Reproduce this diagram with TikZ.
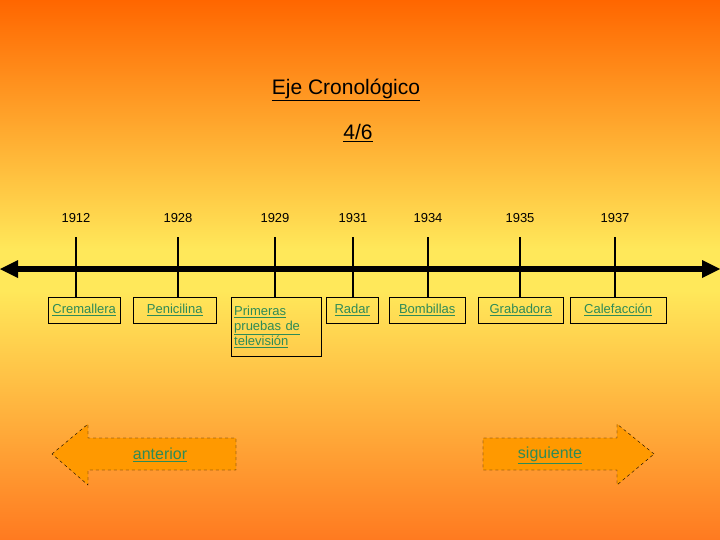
\documentclass[tikz,border=0pt]{standalone}
\usepackage{fontspec}
\setmainfont{Liberation Sans}
\newcommand\myul[1]{\underline{#1}}
\definecolor{lnk}{HTML}{2E8B57}
\definecolor{ortop}{HTML}{FF6600}
\definecolor{yel}{HTML}{FFE85A}
\definecolor{orbot}{HTML}{FF7A20}
\definecolor{arr}{HTML}{FF9900}
\begin{document}
\begin{tikzpicture}[x=1pt,y=-1pt,
 yr/.style={font=\fontsize{13}{15}\selectfont},
 ev/.style={draw,thin,anchor=north west,align=left,inner sep=3pt,text=lnk,font=\fontsize{13}{15}\selectfont},
 tick/.style={line width=2.5pt},
 nav/.style={draw,dashed,fill=arr,thin}]
\path[top color=ortop,bottom color=yel] (0,0) rectangle (720,250);
\path[fill=yel] (0,249.5) rectangle (720,290.5);
\path[top color=yel,bottom color=orbot] (0,290) rectangle (720,540);
\useasboundingbox (0,0) rectangle (720,540);
\node (title) at (346,90) {\fontsize{21}{24}\selectfont\myul{Eje\ Cronológico}};
\node (page) at (358,133) {\fontsize{21}{24}\selectfont\myul{4/6}};
\coordinate (L) at (14,269); \coordinate (R) at (706,269);
\draw[line width=5.5pt] (L) -- (R);
\fill (0,269) -- (18,260) -- (18,278) -- cycle;
\fill (720,269) -- (702,260) -- (702,278) -- cycle;
\foreach \x/\y/\n in {76/1912/a,178/1928/b,275/1929/c,353/1931/d,428/1934/e,520/1935/f,615/1937/g}{
 \node[yr] (y\n) at (\x,218) {\y};
 \coordinate (t\n) at (\x,237); \coordinate (b\n) at (\x,297);
 \draw[tick] (t\n) -- (b\n);
}
\node[ev,minimum width=72pt,minimum height=26pt] (ea) at (48,297) {\myul{Cremallera}};
\node[ev,minimum width=83pt,minimum height=26pt] (eb) at (133,297) {\myul{Penicilina}};
\node[ev,minimum width=90pt,minimum height=59pt,text width=84pt] (ec) at (231,297) {\myul{Primeras}\\\myul{pruebas de}\\\myul{televisión}};
\node[ev,minimum width=52pt,minimum height=26pt] (ed) at (326,297) {\myul{Radar}};
\node[ev,minimum width=76pt,minimum height=26pt] (ee) at (389,297) {\myul{Bombillas}};
\node[ev,minimum width=85pt,minimum height=26pt] (ef) at (478,297) {\myul{Grabadora}};
\node[ev,minimum width=96pt,minimum height=26pt] (eg) at (570,297) {\myul{Calefacción}};
\draw[nav] (52,454) -- (88,424) -- (88,438) -- (236,438) -- (236,470) -- (88,470) -- (88,485) -- cycle;
\draw[nav] (654,454) -- (617,424) -- (617,438) -- (483,438) -- (483,470) -- (617,470) -- (617,485) -- cycle;
\node[text=lnk,font=\fontsize{16}{18}\selectfont] (ant) at (160,455) {\myul{anterior}};
\node[text=lnk,font=\fontsize{16}{18}\selectfont] (sig) at (550,455) {\myul{siguiente}};
\end{tikzpicture}
\end{document}
